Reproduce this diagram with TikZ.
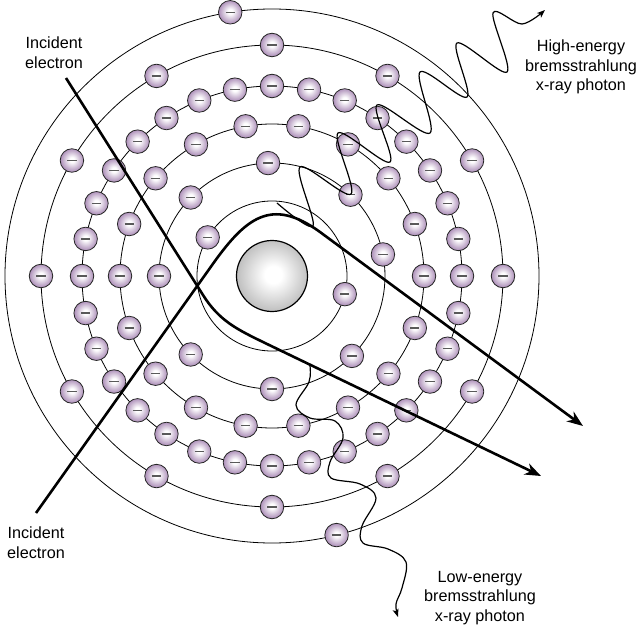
\documentclass[tikz,border=0pt]{standalone}
\usepackage{fontspec}
\setmainfont{Liberation Sans}
\usepackage{xcolor}
\usepackage{tikz}
\usetikzlibrary{arrows.meta,positioning,calc}
\definecolor{elecedge}{RGB}{172,142,184}
\definecolor{nucedge}{RGB}{192,192,192}
\pgfdeclareradialshading{elecball}{\pgfpoint{0bp}{2bp}}{color(0bp)=(white); color(5bp)=(white); color(25bp)=(elecedge); color(50bp)=(elecedge)}
\pgfdeclareradialshading{nucball}{\pgfpoint{1bp}{1bp}}{color(0bp)=(white); color(6bp)=(white); color(25bp)=(nucedge); color(50bp)=(nucedge)}
\begin{document}
\begin{tikzpicture}[x=1pt,y=1pt,
	shell/.style={line width=0.8pt},
	electron/.style={circle,draw=black!85,line width=0.8pt,minimum size=23.5pt,inner sep=0pt,shading=elecball,
		path picture={\draw[line width=1.4pt,black!65]([xshift=-4.6pt]path picture bounding box.center)--([xshift=4.6pt]path picture bounding box.center);}},
	beam/.style={line width=2.6pt,-{Stealth[length=16pt,width=12pt,inset=5pt]}},
	photon/.style={line width=1.2pt,-{Stealth[length=8pt,width=6pt,inset=2pt]}},
	caption/.style={align=center,font=\fontsize{16.2}{19.8}\selectfont}]
	\useasboundingbox (-272,-351) rectangle (366,276);
	\coordinate (core) at (0,0);
	\foreach \r in {75,113,152,190,231,267}
		\draw[shell] (core) circle (\r);
	\node[circle,draw,line width=1.2pt,minimum size=71pt,inner sep=0pt,shading=nucball] (nucleus) at (core) {};
	% shells K to P
	\foreach \a [count=\i] in {149,346}
		\node[electron] (K\i) at (\a:75) {};
	\foreach \a [count=\i] in {11,46,92,136,180,224,270,315}
		\node[electron] (L\i) at (\a:113) {};
	\foreach \a [count=\i] in {0,20,...,340}
		\node[electron] (M\i) at (\a:152) {};
	\foreach \a [count=\i] in {0,11.25,...,348.75}
		\node[electron] (N\i) at (\a:190) {};
	\foreach \a [count=\i] in {0,30,...,330}
		\node[electron] (O\i) at (\a:231) {};
	\foreach \a [count=\i] in {99,284}
		\node[electron] (P\i) at (\a:267) {};
	\draw
		(-206,198) coordinate(inA)
		(-69,-19) coordinate(bendA1)
		(-7,-67) coordinate(bendA2)
		(269,-200) coordinate(outA)
		(-236,-237) coordinate(inB)
		(-62,8) coordinate(bendB1)
		(48,44) coordinate(bendB2)
		(311,-150) coordinate(outB)
		(5,73) coordinate(emitHi)
		(273,266) coordinate(tipHi)
		(38,-90) coordinate(emitLo)
		(126,-341) coordinate(tipLo);
	\draw[beam](inA)--(bendA1) to[out=-58,in=154] (bendA2)--(outA);
	\draw[beam](inB)--(bendB1) to[out=55,in=144,looseness=1.35] (bendB2)--(outB);
	\draw[photon] plot[smooth,tension=0.55] coordinates {(emitHi) (41,50) (28,109) (79,82) (66,143) (118,114) (105,171) (158,143) (148,204) (195,179) (185,233) (235,204) (221,263) (250,252) (tipHi)};
	\draw[photon] plot[smooth,tension=0.6] coordinates {(emitLo) (37,-106) (24,-129) (38,-142) (63,-145) (71,-162) (58,-186) (59,-202) (88,-208) (104,-222) (90,-250) (91,-267) (116,-273) (134,-286) (130,-312) (124,-328) (tipLo)};
	\node[caption] (incTop) at (-218,223) {Incident\\electron};
	\node[caption] (incBot) at (-236,-267) {Incident\\electron};
	\node[caption] (hiPhoton) at (309,209) {High-energy\\bremsstrahlung\\x-ray photon};
	\node[caption] (loPhoton) at (208,-322) {Low-energy\\bremsstrahlung\\x-ray photon};
\end{tikzpicture}
\end{document}
